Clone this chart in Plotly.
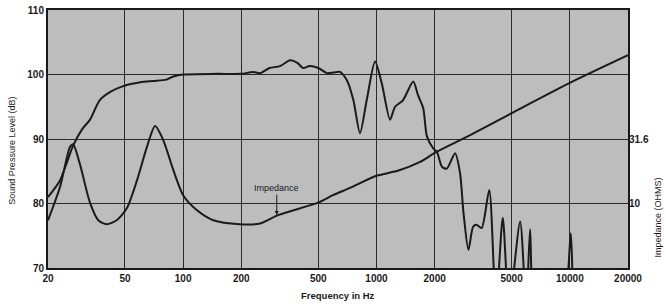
import math
import plotly.graph_objects as go

# ---- data ----
spl_freq = [20, 23, 25, 27, 30, 33, 37, 42, 49, 60, 70, 82, 89, 100, 150, 200, 230, 250, 280, 317,
            357, 390, 417, 450, 500, 555, 600, 647, 703, 760, 822, 890, 983, 1066, 1175, 1248, 1370,
            1550, 1640, 1745, 1824, 1960, 2060, 2180, 2311, 2551, 2706, 2820, 2990, 3160, 3290, 3500,
            3830, 4150, 4500, 4850, 5534, 5950, 6232, 6600, 8000, 9455, 10120, 10600, 12000]
spl_db = [81, 83.5, 86.3, 89, 91.5, 93, 96, 97.3, 98.2, 98.8, 99, 99.2, 99.7, 100, 100.1, 100.1, 100.4,
          100.2, 101, 101.3, 102.2, 101.8, 101, 101.3, 101, 100.2, 100.3, 100.4, 99.1, 96, 90.9, 96,
          102, 98.6, 93, 95, 96, 98.9, 96.8, 94.8, 90.4, 88.6, 87.9, 85.7, 85.4, 87.8, 84.7, 78.5, 72.8,
          76.4, 76.7, 76.2, 82.1, 64, 77.8, 64, 77.2, 64, 76, 62, 58, 64, 75.4, 62, 55]

imp_freq = [20, 23.1, 26, 27, 29.2, 33, 36.4, 40.2, 45.3, 51.2, 57.7, 65, 71.6, 79, 88.9, 100, 117.6,
            143.3, 196, 250, 310, 494, 596, 729, 1000, 1300, 1680, 2040, 3000, 5000, 10000, 20000]
imp_ohm = [7.41, 13.5, 27.5, 28.8, 20.4, 10.1, 7.41, 6.91, 7.41, 9.22, 15.1, 27.5, 39.8, 30.9, 18.2,
           11.6, 8.9, 7.41, 6.91, 7.0, 8.12, 10.1, 11.6, 13.2, 16.4, 18.0, 21.0, 25.1, 33.5, 50.1, 86.0, 141]

x_ticks = [20, 50, 100, 200, 500, 1000, 2000, 5000, 10000, 20000]
y_ticks = [70, 80, 90, 100, 110]
z_ticks = [3.16, 10, 31.6]
z_tick_text = ["3.16", "10", "31.6"]

FONT = "Liberation Sans, Arial, sans-serif"
INK = "#1a1a1a"

fig = go.Figure()
fig.add_trace(go.Scatter(x=spl_freq, y=spl_db, mode="lines",
                         line=dict(color=INK, width=2, shape="spline", smoothing=0.7),
                         hoverinfo="skip", showlegend=False))
fig.add_trace(go.Scatter(x=imp_freq, y=imp_ohm, mode="lines", yaxis="y2",
                         line=dict(color=INK, width=2, shape="spline", smoothing=0.7),
                         hoverinfo="skip", showlegend=False))

fig.update_layout(
    width=666, height=307,
    margin=dict(l=48, r=38, t=10, b=39, autoexpand=False),
    paper_bgcolor="white",
    plot_bgcolor="#bdbdbd",
    font=dict(family=FONT, size=10, color=INK),
    xaxis=dict(type="log", range=[math.log10(20), math.log10(20000)],
               tickvals=x_ticks, ticktext=[str(v) for v in x_ticks],
               showgrid=True, gridcolor="#2b2b2b", gridwidth=1.3,
               showline=True, linecolor=INK, linewidth=2, mirror=True,
               ticks="", zeroline=False, automargin=False,
               tickfont=dict(size=10, family=FONT, color=INK, weight="bold")),
    yaxis=dict(range=[70, 110], tickvals=y_ticks,
               showgrid=True, gridcolor="#2b2b2b", gridwidth=1.3,
               showline=True, linecolor=INK, linewidth=2, mirror=True,
               ticks="", zeroline=False, automargin=False,
               tickfont=dict(size=10, family=FONT, color=INK, weight="bold")),
    yaxis2=dict(type="log", range=[0.5, 2.5], overlaying="y", side="right",
                tickvals=z_ticks, ticktext=z_tick_text, showgrid=False,
                ticks="", zeroline=False, showline=False, automargin=False,
                tickfont=dict(size=10, family=FONT, color=INK, weight="bold")),
    annotations=[
        dict(text="Sound Pressure Level (dB)", xref="paper", yref="paper",
             x=-0.062, y=0.455, xanchor="center", yanchor="middle", textangle=-90,
             showarrow=False, font=dict(size=9, family=FONT, color=INK)),
        dict(text="Impedance (OHMS)", xref="paper", yref="paper",
             x=1.051, y=0.194, xanchor="center", yanchor="middle", textangle=-90,
             showarrow=False, font=dict(size=9, family=FONT, color=INK)),
        dict(text="Frequency in Hz", xref="paper", yref="paper",
             x=0.5, y=-0.105, yanchor="middle", showarrow=False,
             font=dict(size=9.5, family=FONT, color=INK, weight="bold")),
        dict(text="Impedance", xref="x", yref="y",
             x=math.log10(305), y=78.2, ax=0, ay=-27,
             showarrow=True, arrowhead=2, arrowsize=0.8, arrowwidth=1, arrowcolor=INK,
             font=dict(size=9, family=FONT, color=INK)),
    ],
)

# remove the page's default body margin so the figure sits at the window's top-left
fig.write_html("out.html", config={"displayModeBar": False},
               post_script="document.body.style.margin='0';")
